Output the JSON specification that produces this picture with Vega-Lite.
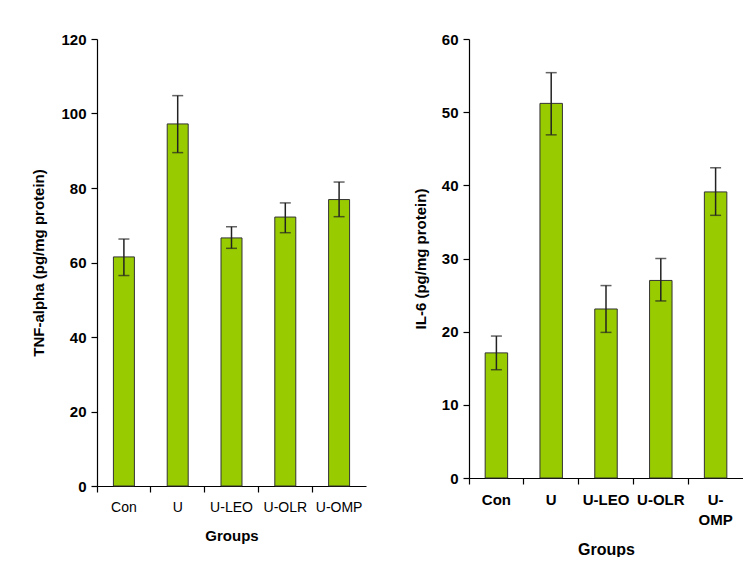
{
  "$schema": "https://vega.github.io/schema/vega-lite/v6.json",
  "background": "white",
  "padding": {"top": 32, "left": 31, "right": 0, "bottom": 0},
  "spacing": 47,
  "config": {
    "view": {"stroke": null},
    "font": "Liberation Sans",
    "axis": {"grid": false, "domainColor": "#000", "tickColor": "#000", "labelColor": "#000", "titleColor": "#000", "tickSize": 6, "domainWidth": 1.2, "tickWidth": 1.2}
  },
  "datasets": {
    "tnf": [
      {"group": "Con", "value": 61.5, "lo": 56.5, "hi": 66.3},
      {"group": "U", "value": 97.2, "lo": 89.5, "hi": 104.8},
      {"group": "U-LEO", "value": 66.6, "lo": 63.8, "hi": 69.6},
      {"group": "U-OLR", "value": 72.2, "lo": 68.0, "hi": 76.0},
      {"group": "U-OMP", "value": 76.9, "lo": 72.3, "hi": 81.6}
    ],
    "il6": [
      {"group": "Con", "value": 17.1, "lo": 14.8, "hi": 19.4},
      {"group": "U", "value": 51.2, "lo": 46.9, "hi": 55.4},
      {"group": "U-LEO", "value": 23.1, "lo": 19.9, "hi": 26.3},
      {"group": "U-OLR", "value": 27.0, "lo": 24.2, "hi": 30.0},
      {"group": "U-OMP", "value": 39.1, "lo": 35.9, "hi": 42.4}
    ]
  },
  "hconcat": [
    {
      "width": 269,
      "height": 447,
      "data": {"name": "tnf"},
      "encoding": {
        "x": {"field": "group", "type": "nominal", "sort": null,
          "scale": {"paddingInner": 0, "paddingOuter": 0},
          "axis": {"title": "Groups", "labelAngle": 0, "bandPosition": 0, "labelFontSize": 14, "labelFontWeight": "normal", "labelPadding": 8, "titleFontSize": 15, "titleFontWeight": "bold", "titlePadding": 14}}
      },
      "layer": [
        {
          "mark": {"type": "bar", "width": {"band": 0.39}, "fill": "#99CC00", "stroke": "#333333", "strokeWidth": 1},
          "encoding": {
            "y": {"field": "value", "type": "quantitative", "scale": {"domain": [0, 120], "nice": false},
              "axis": {"title": "TNF-alpha  (pg/mg protein)", "values": [0, 20, 40, 60, 80, 100, 120], "labelFontSize": 15, "labelFontWeight": "bold", "labelPadding": 5, "titleFontSize": 15, "titleFontWeight": "bold", "titlePadding": 14}}
          }
        },
        {
          "mark": {"type": "rule", "color": "#222", "strokeWidth": 1.5},
          "encoding": {"y": {"field": "lo", "type": "quantitative"}, "y2": {"field": "hi"}}
        },
        {
          "mark": {"type": "tick", "color": "#222", "size": 11, "thickness": 1.5},
          "encoding": {"y": {"field": "lo", "type": "quantitative"}}
        },
        {
          "mark": {"type": "tick", "color": "#222", "size": 11, "thickness": 1.5},
          "encoding": {"y": {"field": "hi", "type": "quantitative"}}
        }
      ]
    },
    {
      "width": 274,
      "height": 439,
      "data": {"name": "il6"},
      "encoding": {
        "x": {"field": "group", "type": "nominal", "sort": null,
          "scale": {"paddingInner": 0, "paddingOuter": 0},
          "axis": {"title": "Groups", "labelAngle": 0, "bandPosition": 0, "labelFontSize": 15, "labelFontWeight": "bold", "labelPadding": 8, "labelLineHeight": 20,
            "labelExpr": "datum.label == 'U-OMP' ? ['U-', 'OMP'] : datum.label",
            "titleFontSize": 16, "titleFontWeight": "bold", "titlePadding": 14}}
      },
      "layer": [
        {
          "mark": {"type": "bar", "width": {"band": 0.41}, "fill": "#99CC00", "stroke": "#333333", "strokeWidth": 1},
          "encoding": {
            "y": {"field": "value", "type": "quantitative", "scale": {"domain": [0, 60], "nice": false},
              "axis": {"title": "IL-6 (pg/mg protein)", "values": [0, 10, 20, 30, 40, 50, 60], "labelFontSize": 15, "labelFontWeight": "bold", "labelPadding": 5, "titleFontSize": 15, "titleFontWeight": "bold", "titlePadding": 13}}
          }
        },
        {
          "mark": {"type": "rule", "color": "#222", "strokeWidth": 1.5},
          "encoding": {"y": {"field": "lo", "type": "quantitative"}, "y2": {"field": "hi"}}
        },
        {
          "mark": {"type": "tick", "color": "#222", "size": 11, "thickness": 1.5},
          "encoding": {"y": {"field": "lo", "type": "quantitative"}}
        },
        {
          "mark": {"type": "tick", "color": "#222", "size": 11, "thickness": 1.5},
          "encoding": {"y": {"field": "hi", "type": "quantitative"}}
        }
      ]
    }
  ]
}
